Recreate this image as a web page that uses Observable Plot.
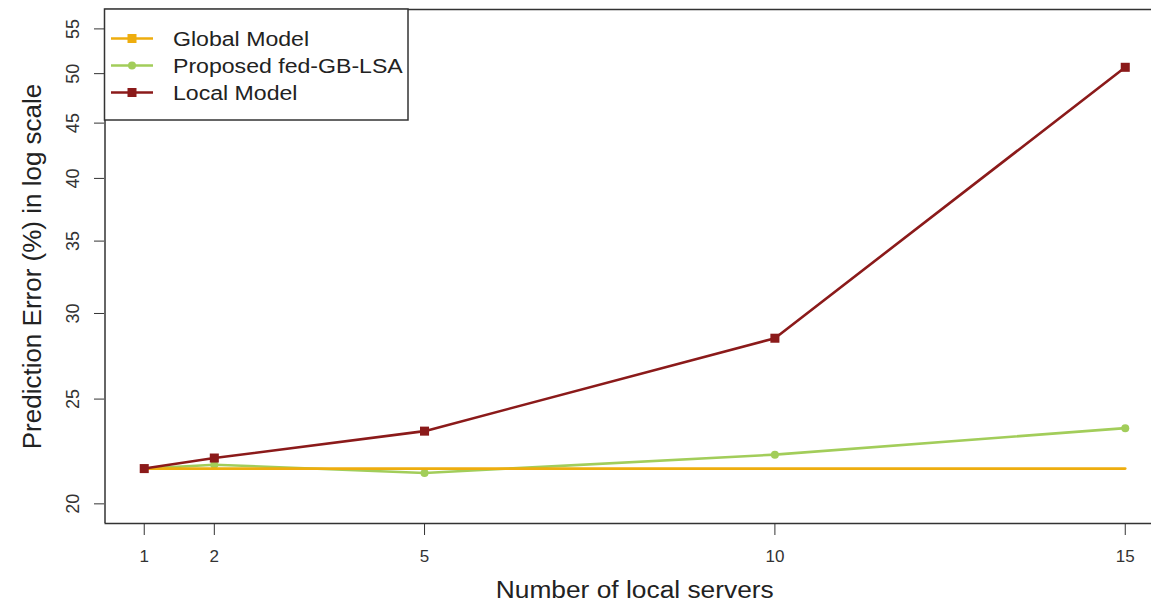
<!DOCTYPE html>
<html>
<head>
<meta charset="utf-8">
<script src="https://cdn.jsdelivr.net/npm/d3@7"></script>
<script src="https://cdn.jsdelivr.net/npm/@observablehq/plot@0.6"></script>
<style>
  html, body { margin: 0; padding: 0; background: #fff; overflow: hidden; }
  #wrap { position: relative; width: 1151px; height: 608px; font-family: "Liberation Sans", Arial, sans-serif; }
  #legend { position: absolute; left: 0; top: 0; }
</style>
</head>
<body>
<div id="wrap"></div>
<script>
// Prediction error (%) versus number of local servers
const servers   = [1, 2, 5, 10, 15];
const globalErr = [21.56, 21.56, 21.56, 21.56, 21.56];
const fedErr    = [21.56, 21.74, 21.36, 22.21, 23.50];
const localErr  = [21.56, 22.05, 23.35, 28.46, 50.68];

const seriesNames  = ["Global Model", "Proposed fed-GB-LSA", "Local Model"];
const seriesColors = ["#EEAD0E", "#A2CD5A", "#8B1A1A"];
const yTicks = [20, 25, 30, 35, 40, 45, 50, 55];

const xTitle = "Number of local servers";
const yTitle = "Prediction Error (%) in log scale";

// R-style plot region: limits padded by 4% on each side
const xDom = [0.44, 15.56];
const yDom = [19.18, 57.32];
const xMid = (xDom[0] + xDom[1]) / 2;

const toRows = (name, vals) => servers.map((s, i) => ({series: name, x: s, y: vals[i]}));
const globalRows = toRows(seriesNames[0], globalErr);
const fedRows    = toRows(seriesNames[1], fedErr);
const localRows  = toRows(seriesNames[2], localErr);

const font = "'Liberation Sans', Arial, sans-serif";
const ink = "#222";

const chart = Plot.plot({
  width: 1151,
  height: 608,
  marginLeft: 104,
  marginTop: 9,
  marginBottom: 85,
  marginRight: 0,
  style: {fontFamily: font, background: "#fff", overflow: "hidden"},
  x: {domain: xDom, range: [104.5, 1164]},
  y: {type: "log", domain: yDom, range: [523, 9]},
  marks: [
    // plot box
    Plot.ruleY([yDom[0], yDom[1]], {x1: xDom[0], x2: xDom[1], stroke: "#333", strokeWidth: 1.5}),
    Plot.ruleX([xDom[0]], {y1: yDom[0], y2: yDom[1], stroke: "#333", strokeWidth: 1.5}),
    // axes
    Plot.axisY(yTicks, {anchor: "left", tickSize: 10, tickFormat: () => "", label: null, stroke: "#333"}),
    Plot.text(yTicks, {y: d => d, text: d => String(d), frameAnchor: "left", textAnchor: "middle",
                       dx: -31, rotate: -90, fontSize: 18, fill: "#333"}),
    Plot.axisX(servers, {anchor: "bottom", tickSize: 12, tickPadding: 14, fontSize: 17, label: null,
                         tickFormat: d => String(d), stroke: "#333", color: "#333"}),
    Plot.text([xTitle], {x: () => xMid, frameAnchor: "bottom", dy: 74, fontSize: 23, fill: ink}),
    Plot.text([yTitle], {frameAnchor: "left", textAnchor: "middle", dx: -72, rotate: -90,
                         fontSize: 26, fill: ink}),
    // series
    Plot.line(fedRows, {x: "x", y: "y", stroke: seriesColors[1], strokeWidth: 2.6}),
    Plot.dot(fedRows, {x: "x", y: "y", r: 4, fill: seriesColors[1], symbol: "circle"}),
    Plot.line(globalRows, {x: "x", y: "y", stroke: seriesColors[0], strokeWidth: 2.6}),
    Plot.line(localRows, {x: "x", y: "y", stroke: seriesColors[2], strokeWidth: 2.6}),
    Plot.dot(localRows, {x: "x", y: "y", r: 5.1, fill: seriesColors[2], symbol: "square"})
  ]
});

// stretch the x title to its printed width
d3.select(chart).selectAll("text").filter(function () { return this.textContent === xTitle; })
  .attr("textLength", 278).attr("lengthAdjust", "spacingAndGlyphs");

const wrap = document.getElementById("wrap");
wrap.appendChild(chart);

// legend box in the top-left corner of the plot region
const leg = d3.select(wrap).append("svg")
  .attr("id", "legend")
  .attr("width", 1151).attr("height", 130)
  .style("pointer-events", "none");
leg.append("rect")
  .attr("x", 104.5).attr("y", 9).attr("width", 303.5).attr("height", 111)
  .attr("fill", "#fff").attr("stroke", "#333").attr("stroke-width", 1.5);
const symbols = ["square", "circle", "square"];
seriesNames.forEach((name, i) => {
  const cy = 38.5 + i * 27;
  const g = leg.append("g");
  g.append("line").attr("x1", 111).attr("x2", 153).attr("y1", cy).attr("y2", cy)
    .attr("stroke", seriesColors[i]).attr("stroke-width", 2.6);
  if (symbols[i] === "square") {
    g.append("rect").attr("x", 132 - 4.5).attr("y", cy - 4.5).attr("width", 9).attr("height", 9)
      .attr("fill", seriesColors[i]);
  } else {
    g.append("circle").attr("cx", 132).attr("cy", cy).attr("r", 4).attr("fill", seriesColors[i]);
  }
  g.append("text")
    .attr("transform", `translate(173,${cy}) scale(1.1,1)`)
    .attr("dy", "0.36em")
    .attr("font-family", font).attr("font-size", 21).attr("fill", ink)
    .text(name);
});
</script>
</body>
</html>
